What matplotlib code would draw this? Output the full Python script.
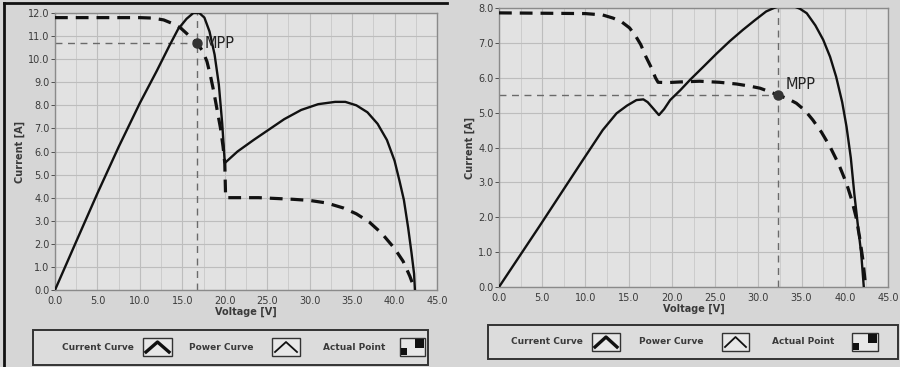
import matplotlib
matplotlib.use("Agg")
import matplotlib.pyplot as plt
from matplotlib.patches import Rectangle
from matplotlib.lines import Line2D

# ---------------- data ----------------
# Left panel
l_iv_v = [0.0, 10.0, 11.5, 12.8, 13.8, 14.8, 15.7, 16.7, 17.4, 17.9, 18.3, 18.7, 19.1, 19.5, 19.8, 20.0, 20.1,
          24.0, 28.0, 30.0, 32.0, 34.0, 35.5, 37.0, 38.5, 40.0, 41.0, 41.8, 42.3]
l_iv_i = [11.8, 11.8, 11.78, 11.7, 11.55, 11.35, 11.05, 10.7, 10.35, 9.9, 9.3, 8.6, 7.8, 7.0, 6.2, 5.5, 4.0,
          4.0, 3.93, 3.88, 3.77, 3.55, 3.3, 2.95, 2.45, 1.8, 1.25, 0.6, 0.1]
l_pv_v = [0.0, 2.5, 5.0, 7.5, 10.0, 12.0, 13.5, 14.5, 15.5, 16.3, 17.0, 17.6, 18.2, 18.8, 19.3, 19.7, 20.0,
          21.5, 23.4, 25.0, 27.0, 29.0, 31.0, 33.0, 34.2, 35.5, 36.8, 38.0, 39.1, 40.0, 40.6, 41.1, 41.6, 42.0, 42.3, 42.4]
l_pv_p = [0.0, 2.1, 4.19, 6.2, 8.1, 9.5, 10.6, 11.3, 11.75, 12.0, 12.0, 11.8, 11.2, 10.2, 8.9, 7.2, 5.5,
          6.0, 6.5, 6.9, 7.4, 7.8, 8.05, 8.15, 8.15, 8.0, 7.7, 7.2, 6.5, 5.6, 4.7, 3.9, 2.7, 1.6, 0.7, 0.0]
l_mpp = (16.7, 10.7)

# Right panel
r_iv_v = [0.0, 10.0, 12.0, 13.2, 14.2, 15.1, 15.8, 16.4, 17.0, 17.6, 18.1, 18.4, 19.4, 21.0, 23.2, 25.5, 27.5,
          29.0, 30.2, 31.3, 32.3, 33.4, 34.4, 35.4, 36.3, 37.3, 38.3, 39.3, 40.2, 40.8, 41.3, 41.7, 42.1, 42.4]
r_iv_i = [7.86, 7.84, 7.8, 7.71, 7.6, 7.43, 7.2, 6.95, 6.6, 6.3, 6.0, 5.87, 5.86, 5.88, 5.9, 5.87, 5.82,
          5.76, 5.7, 5.6, 5.5, 5.4, 5.27, 5.06, 4.79, 4.44, 4.02, 3.52, 2.97, 2.5, 2.01, 1.45, 0.77, 0.05]
r_pv_v = [0.0, 4.7, 9.7, 12.0, 13.6, 14.8, 15.9, 16.7, 17.2, 17.8, 18.5, 19.1, 19.8, 21.0, 22.1, 23.7, 25.2,
          26.7, 28.2, 29.6, 30.9, 31.8, 32.5, 33.3, 34.0, 34.8, 35.6, 36.6, 37.5, 38.3, 39.0, 39.7, 40.2,
          40.7, 41.1, 41.5, 41.9, 42.2]
r_pv_p = [0.0, 1.75, 3.64, 4.5, 4.98, 5.2, 5.36, 5.38, 5.3, 5.13, 4.93, 5.1, 5.36, 5.65, 5.94, 6.33, 6.7,
          7.05, 7.37, 7.65, 7.9, 8.0, 8.06, 8.08, 8.06, 7.98, 7.85, 7.5, 7.09, 6.6, 6.03, 5.3, 4.6,
          3.7, 2.68, 1.8, 0.96, 0.0]
r_mpp = (32.3, 5.5)

x_ticks = [0, 5, 10, 15, 20, 25, 30, 35, 40, 45]
l_y_ticks = list(range(0, 13))
r_y_ticks = list(range(0, 9))
legend_labels = ["Current Curve", "Power Curve", "Actual Point"]

# ---------------- figure ----------------
W, H = 900, 367
fig = plt.figure(figsize=(9.0, 3.67), dpi=100)
fig.patch.set_facecolor("#d6d6d6")
TXT = "#3a3a3a"

def fx(px):
    return px / W

def fy(py):
    return 1 - py / H

def panel(rect, iv_v, iv_i, pv_v, pv_p, mpp, yticks, ymax, mpp_txt_off):
    ax = fig.add_axes(rect)
    ax.set_facecolor("#e2e2e2")
    ax.set_xlim(0, 45)
    ax.set_ylim(0, ymax)
    ax.set_xticks(x_ticks)
    ax.set_xticklabels([f"{t:.1f}" for t in x_ticks])
    ax.set_yticks(yticks)
    ax.set_yticklabels([f"{t:.1f}" for t in yticks])
    ax.set_xticks([2.5 + 5 * k for k in range(9)], minor=True)
    ax.grid(True, which="major", color="#bdbdbd", lw=0.8)
    ax.grid(True, which="minor", axis="x", color="#c8c8c8", lw=0.6)
    ax.tick_params(axis="both", which="major", labelsize=7, colors=TXT, length=3, width=0.6, pad=1)
    ax.tick_params(axis="x", which="major", length=0, pad=4)
    ax.tick_params(axis="both", which="minor", length=0)
    for s in ax.spines.values():
        s.set_color("#8a8a8a")
        s.set_linewidth(1.0)
    ax.set_axisbelow(True)
    # reference lines to MPP
    ax.plot([0, mpp[0]], [mpp[1], mpp[1]], ls=(0, (5, 4)), color="#6a6a6a", lw=1.0, zorder=2)
    ax.plot([mpp[0], mpp[0]], [0, ymax], ls=(0, (5, 4)), color="#6a6a6a", lw=1.0, zorder=2)
    ax.plot(pv_v, pv_p, color="#111111", lw=1.7, zorder=3, solid_joinstyle="round")
    ax.plot(iv_v, iv_i, color="#111111", lw=2.3, ls=(0, (4, 2.5)), zorder=3)
    ax.plot([mpp[0]], [mpp[1]], "o", color="#333333", ms=6.5, zorder=4)
    ax.text(mpp[0] + mpp_txt_off[0], mpp[1] + mpp_txt_off[1], "MPP", fontsize=10.5,
            color="#222222", va="center", ha="left")
    ax.set_xlabel("Voltage [V]", fontsize=7, color=TXT, fontweight="bold", labelpad=1)
    ax.set_ylabel("Current [A]", fontsize=7, color=TXT, fontweight="bold", labelpad=2)
    return ax

axL = panel([fx(55), fy(290), fx(437 - 55), (290 - 13) / H], l_iv_v, l_iv_i, l_pv_v, l_pv_p,
            l_mpp, l_y_ticks, 12, (0.9, 0.0))
axR = panel([fx(499), fy(287), fx(888 - 499), (287 - 8) / H], r_iv_v, r_iv_i, r_pv_v, r_pv_p,
            r_mpp, r_y_ticks, 8, (0.8, 0.3))

# page borders
fig.add_artist(Line2D([fx(4), fx(4)], [fy(3), fy(367)], color="#111111", lw=2.0))
fig.add_artist(Line2D([fx(4), fx(447)], [fy(3), fy(3)], color="#111111", lw=2.0))

def icon(x0, x1, y0, y1, kind):
    fig.add_artist(Rectangle((fx(x0), fy(y1)), fx(x1 - x0), (y1 - y0) / H, transform=fig.transFigure,
                             facecolor="#e8e8e8", edgecolor="#333333", lw=1.0))
    if kind in (0, 1):
        xs = [x0 + 3, (x0 + x1) / 2, x1 - 3]
        ys = [y1 - 4, y0 + 4, y1 - 4]
        lw = 2.4 if kind == 0 else 1.3
        fig.add_artist(Line2D([fx(v) for v in xs], [fy(v) for v in ys], color="#111111", lw=lw))
    else:
        fig.add_artist(Rectangle((fx(x0 + 1), fy(y1 - 1)), fx(6), 7 / H, transform=fig.transFigure,
                                 facecolor="#111111", edgecolor="none"))
        fig.add_artist(Rectangle((fx(x1 - 10), fy(y0 + 10)), fx(9), 9 / H, transform=fig.transFigure,
                                 facecolor="#111111", edgecolor="none"))

def legend(box, items):
    bx0, by0, bx1, by1 = box
    fig.add_artist(Rectangle((fx(bx0), fy(by1)), fx(bx1 - bx0), (by1 - by0) / H, transform=fig.transFigure,
                             facecolor="#dcdcdc", edgecolor="#333333", lw=1.4))
    for k, (tx0, tx1, ix0, ix1, iy0, iy1) in enumerate(items):
        fig.text(fx((tx0 + tx1) / 2), fy((iy0 + iy1) / 2), legend_labels[k], fontsize=6.5,
                 color=TXT, ha="center", va="center", fontweight="bold")
        icon(ix0, ix1, iy0, iy1, k)

legend((33, 330, 428, 365), [(62, 133, 143, 172, 338, 356),
                              (190, 252, 272, 300, 338, 356),
                              (320, 388, 400, 425, 338, 356)])
legend((488, 325, 898, 359), [(510, 583, 592, 620, 333, 351),
                               (640, 702, 722, 749, 333, 351),
                               (770, 837, 852, 878, 333, 351)])

fig.savefig("out.png", dpi=100, facecolor=fig.get_facecolor())
